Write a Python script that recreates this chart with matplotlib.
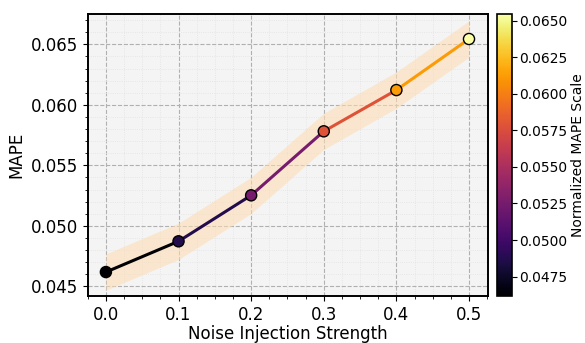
import numpy as np
import matplotlib
matplotlib.use('Agg')
import matplotlib.pyplot as plt
from matplotlib.collections import LineCollection
from matplotlib.ticker import AutoMinorLocator

noise = [0.0, 0.1, 0.2, 0.3, 0.4, 0.5]
mape = [0.04618, 0.04872, 0.05252, 0.05781, 0.06122, 0.06544]
band = 0.0015
cbar_ticks = [0.0475, 0.0500, 0.0525, 0.0550, 0.0575, 0.0600, 0.0625, 0.0650]

x = np.array(noise)
y = np.array(mape)

fig = plt.figure(figsize=(5.85, 3.43), dpi=100)
ax = fig.add_axes([0.150, 0.137, 0.684, 0.822])
cax = fig.add_axes([0.849, 0.137, 0.026, 0.822])
ax.set_facecolor('#f4f4f4')

cmap = plt.get_cmap('inferno')
norm = plt.Normalize(y.min(), y.max())

# uncertainty band
ax.fill_between(x, y - band, y + band, color='#ffdcb0', alpha=0.55, lw=0, zorder=1)

# segments coloured by their starting point
segs = np.stack([np.column_stack([x[:-1], y[:-1]]), np.column_stack([x[1:], y[1:]])], axis=1)
lc = LineCollection(segs, colors=cmap(norm(y[:-1])), linewidths=2.2, zorder=2)
ax.add_collection(lc)

ax.scatter(x, y, c=y, cmap=cmap, norm=norm, s=64, edgecolors='black', linewidths=1, zorder=3)

ax.set_xlim(-0.025, 0.526)
ax.set_ylim(0.0442, 0.0675)
ax.set_xticks(noise)
ax.set_yticks([0.045, 0.050, 0.055, 0.060, 0.065])
ax.xaxis.set_minor_locator(AutoMinorLocator(4))
ax.yaxis.set_minor_locator(AutoMinorLocator(5))
ax.grid(which='major', color='#b0b0b0', linestyle='--', linewidth=0.8)
ax.grid(which='minor', color='#e2e2e2', linestyle=':', linewidth=0.6)
ax.set_axisbelow(True)
ax.tick_params(labelsize=12)
for s in ax.spines.values():
    s.set_linewidth(1.4)

ax.set_xlabel('Noise Injection Strength', fontsize=12, labelpad=1)
ax.set_ylabel('MAPE', fontsize=12)

sm = plt.cm.ScalarMappable(cmap=cmap, norm=norm)
cb = fig.colorbar(sm, cax=cax)
cb.set_ticks(cbar_ticks)
cb.ax.set_yticklabels([f'{t:.4f}' for t in cbar_ticks])
cb.ax.tick_params(labelsize=10, pad=2)
cb.outline.set_linewidth(1.2)
cb.set_label('Normalized MAPE Scale', fontsize=10, labelpad=2)

fig.savefig('out.png', dpi=100)
